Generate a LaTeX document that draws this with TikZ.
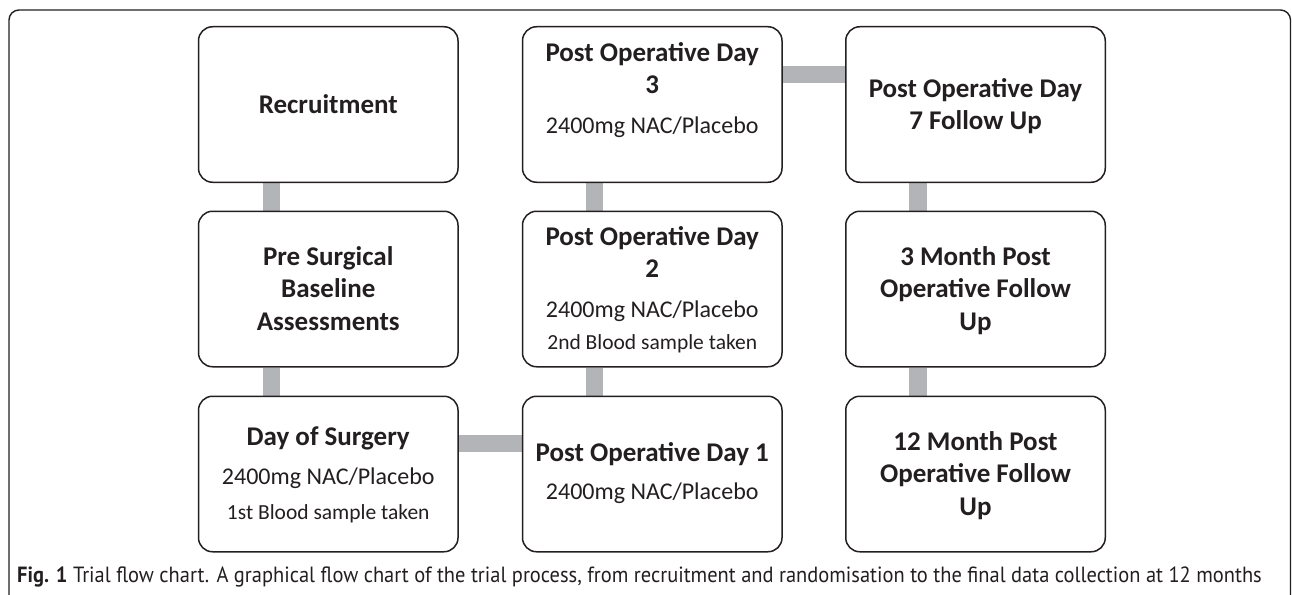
\documentclass[tikz,border=0pt]{standalone}
\usepackage{fontspec}
\setmainfont{Carlito}
\newfontfamily\capfont[FakeStretch=0.93]{PT Sans}
\definecolor{lk}{RGB}{35,31,32}
\definecolor{barc}{RGB}{179,180,184}
\pgfdeclarelayer{bg}
\pgfsetlayers{bg,main}
\tikzset{
  box/.style={draw=lk,line width=1.5pt,rounded corners=14pt,minimum width=259.5pt,minimum height=155.5pt,inner sep=0pt,fill=white},
  bar/.style={draw=barc,line width=17.5pt},
  ttl/.style={font=\fontsize{27}{32}\selectfont\bfseries,text=lk,anchor=base,inner sep=0pt},
  bod/.style={font=\fontsize{24}{28}\selectfont,text=lk,anchor=base,inner sep=0pt},
  sml/.style={font=\fontsize{21.5}{24}\selectfont,text=lk,anchor=base,inner sep=0pt},
}
\begin{document}
\begin{tikzpicture}[x=1pt,y=-1pt]
\useasboundingbox (0,0) rectangle (1292,594);
\draw[lk,line width=1.4pt,rounded corners=10pt] (9,10) rectangle (1290.5,640);
% boxes
\node[box] (rec) at (328.25,104.5) {};
\node[box] (pre) at (328.25,289) {};
\node[box] (dos) at (328.25,474) {};
\node[box] (p3) at (652.25,104.5) {};
\node[box] (p2) at (652.25,289) {};
\node[box] (p1) at (652.25,474) {};
\node[box] (p7) at (975.5,104.5) {};
\node[box] (m3) at (975.5,289) {};
\node[box] (m12) at (975.5,474) {};
% connectors
\begin{pgfonlayer}{bg}
\draw[bar] ([xshift=-57pt]rec.south) -- ([xshift=-57pt]pre.north);
\draw[bar] ([xshift=-57pt]pre.south) -- ([xshift=-57pt]dos.north);
\draw[bar] ([yshift=30.5pt]dos.east) -- ([yshift=30.5pt]p1.west);
\draw[bar] ([xshift=-58pt]p1.north) -- ([xshift=-58pt]p2.south);
\draw[bar] ([xshift=-58pt]p2.north) -- ([xshift=-58pt]p3.south);
\draw[bar] ([yshift=30pt]p3.east) -- ([yshift=30pt]p7.west);
\draw[bar] ([xshift=-57.5pt]p7.south) -- ([xshift=-57.5pt]m3.north);
\draw[bar] ([xshift=-57.5pt]m3.south) -- ([xshift=-57.5pt]m12.north);
\end{pgfonlayer}
% texts
\node[ttl] (t-rec) at (328.25,113.5) {Recruitment};
\node[ttl] (t-pre1) at (328.25,265) {Pre Surgical};
\node[ttl] (t-pre2) at (328.25,297.5) {Baseline};
\node[ttl] (t-pre3) at (328.25,330) {Assessments};
\node[ttl] (t-dos1) at (328.25,445) {Day of Surgery};
\node[bod] (t-dos2) at (328.25,484) {2400mg NAC/Placebo};
\node[sml] (t-dos3) at (328.25,519) {1st Blood sample taken};
\node[ttl] (t-p31) at (652.25,61) {Post Operative Day};
\node[ttl] (t-p32) at (652.25,93) {3};
\node[bod] (t-p33) at (652.25,133) {2400mg NAC/Placebo};
\node[ttl] (t-p21) at (652.25,245) {Post Operative Day};
\node[ttl] (t-p22) at (652.25,277) {2};
\node[bod] (t-p23) at (652.25,317) {2400mg NAC/Placebo};
\node[sml] (t-p24) at (652.25,349) {2nd Blood sample taken};
\node[ttl] (t-p11) at (652.25,461) {Post Operative Day 1};
\node[bod] (t-p12) at (652.25,499) {2400mg NAC/Placebo};
\node[ttl] (t-p71) at (975.5,97) {Post Operative Day};
\node[ttl] (t-p72) at (975.5,129.5) {7 Follow Up};
\node[ttl] (t-m31) at (975.5,265) {3 Month Post};
\node[ttl] (t-m32) at (975.5,297.5) {Operative Follow};
\node[ttl] (t-m33) at (975.5,330) {Up};
\node[ttl] (t-m121) at (975.5,450) {12 Month Post};
\node[ttl] (t-m122) at (975.5,482.5) {Operative Follow};
\node[ttl] (t-m123) at (975.5,515) {Up};
% caption
\node[anchor=base west,inner sep=0pt,text=lk,font=\capfont\fontsize{22}{24}\selectfont] (cap) at (17,582) {\textbf{Fig. 1} Trial flow chart. A graphical flow chart of the trial process, from recruitment and randomisation to the final data collection at 12 months};
\end{tikzpicture}
\end{document}
